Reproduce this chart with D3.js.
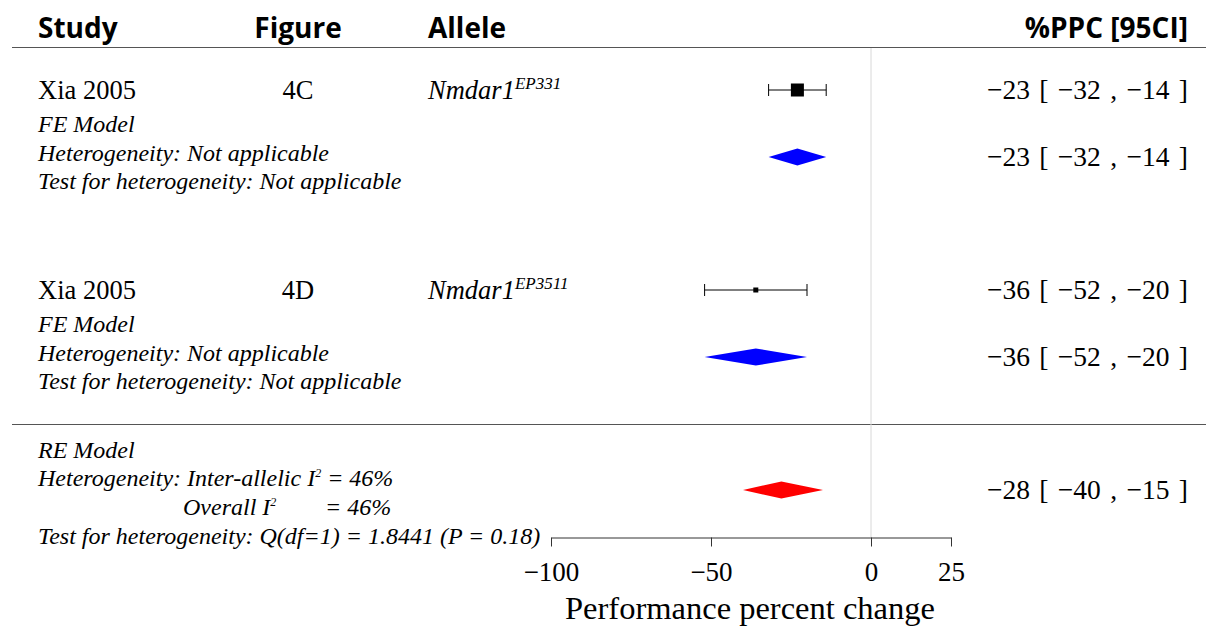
<!DOCTYPE html>
<html>
<head>
<meta charset="utf-8">
<script src="https://d3js.org/d3.v7.min.js"></script>
<style>
  body { margin: 0; background: #fff; }
</style>
</head>
<body>
<svg id="chart" width="1206" height="628"></svg>
<script>
// study rows
const studies = ["Xia 2005", "Xia 2005"];
const figures = ["4C", "4D"];
const alleles = ["Nmdar1", "Nmdar1"];
const alleleSup = ["EP331", "EP3511"];
const est = [-23, -36];
const lo = [-32, -52];
const hi = [-14, -20];
const sqSize = [13, 5];
// fixed-effect summaries per allele
const feEst = [-23, -36];
const feLo = [-32, -52];
const feHi = [-14, -20];
// random-effects overall
const reEst = -28, reLo = -40, reHi = -15;
const xTicks = [-100, -50, 0, 25];

const svg = d3.select("#chart");
const x = d3.scaleLinear().domain([-100, 25]).range([551, 951]);
const minus = v => (v < 0 ? "\u2212" + Math.abs(v) : "" + v);
const ciLabel = (e, l, h) => `${minus(e)} [ ${minus(l)} , ${minus(h)} ]`;

// serif text helper
function stext(parent, xx, yy, size, italic) {
  return parent.append("text").attr("x", xx).attr("y", yy)
    .attr("font-family", "Liberation Serif").attr("font-size", size)
    .attr("font-style", italic ? "italic" : "normal");
}
const ciText = (parent, yy, label) => stext(parent, 1188, yy, 27.5)
  .attr("text-anchor", "end").attr("word-spacing", 2.5).text(label);

// header
const hy = 38;
const hdr = (t, xx, anchor) => svg.append("text").attr("x", xx).attr("y", hy)
  .attr("text-anchor", anchor).attr("font-family", "Open Sans").attr("font-weight", 700)
  .attr("font-size", 28).text(t);
hdr("Study", 38, "start");
hdr("Figure", 298, "middle");
hdr("Allele", 428, "start");
hdr("%PPC [95CI]", 1188, "end");

svg.append("line").attr("x1", 12).attr("x2", 1206).attr("y1", 47.5).attr("y2", 47.5)
  .attr("stroke", "#555").attr("stroke-width", 1.2);
svg.append("line").attr("x1", 12).attr("x2", 1206).attr("y1", 424.5).attr("y2", 424.5)
  .attr("stroke", "#555").attr("stroke-width", 1.2);

// zero line
svg.append("line").attr("x1", x(0)).attr("x2", x(0)).attr("y1", 48).attr("y2", 537)
  .attr("stroke", "#d8d8d8").attr("stroke-width", 1);

const blockTop = [90, 290];
const diamondH = 8.5;
const diamond = (e, l, h, y) => `M${x(l)},${y} L${x(e)},${y - diamondH} L${x(h)},${y} L${x(e)},${y + diamondH} Z`;

studies.forEach((s, i) => {
  const y = blockTop[i];
  const g = svg.append("g");
  stext(g, 38, y + 9, 26.5).text(s);
  stext(g, 298, y + 9, 26.5).attr("text-anchor", "middle").text(figures[i]);
  const t = stext(g, 428, y + 9, 26.5, true);
  t.append("tspan").text(alleles[i]);
  t.append("tspan").attr("font-size", 17).attr("dy", -10).text(alleleSup[i]);

  // CI whiskers
  g.append("line").attr("x1", x(lo[i])).attr("x2", x(hi[i])).attr("y1", y).attr("y2", y).attr("stroke", "#000").attr("stroke-width", 1);
  [lo[i], hi[i]].forEach(v => g.append("line").attr("x1", x(v)).attr("x2", x(v)).attr("y1", y - 6).attr("y2", y + 6).attr("stroke", "#000"));
  g.append("rect").attr("x", x(est[i]) - sqSize[i] / 2).attr("y", y - sqSize[i] / 2)
    .attr("width", sqSize[i]).attr("height", sqSize[i]).attr("fill", "#000");
  ciText(g, y + 9, ciLabel(est[i], lo[i], hi[i]));

  // FE summary
  const lines = ["FE Model", "Heterogeneity: Not applicable", "Test for heterogeneity: Not applicable"];
  lines.forEach((l, k) => stext(g, 38, y + 42 + k * 28.5, 24, true).text(l));
  const fy = y + 67;
  g.append("path").attr("d", diamond(feEst[i], feLo[i], feHi[i], fy)).attr("fill", "#0000ff");
  ciText(g, fy + 9, ciLabel(feEst[i], feLo[i], feHi[i]));
});

// RE summary
stext(svg, 38, 458, 24, true).text("RE Model");
const h1 = stext(svg, 38, 486, 24, true);
h1.append("tspan").text("Heterogeneity: Inter-allelic I");
h1.append("tspan").attr("font-size", 12).attr("dy", -9).text("2");
h1.append("tspan").attr("dy", 9).text(" = 46%");
const h2 = stext(svg, 183, 515, 24, true);
h2.append("tspan").text("Overall I");
h2.append("tspan").attr("font-size", 12).attr("dy", -9).text("2");
stext(svg, 325, 515, 24, true).text("= 46%");
stext(svg, 38, 544, 24, true).text("Test for heterogeneity: Q(df=1) = 1.8441 (P = 0.18)");

svg.append("path").attr("d", diamond(reEst, reLo, reHi, 490)).attr("fill", "#ff0000");
ciText(svg, 499, ciLabel(reEst, reLo, reHi));

// axis
const axis = svg.append("g").attr("transform", "translate(0,537.5)")
  .call(d3.axisBottom(x).tickValues(xTicks).tickSize(9).tickSizeOuter(0).tickFormat(minus))
  .attr("font-family", "Liberation Serif").attr("font-size", 27);
axis.select(".domain").attr("stroke", "#333");
axis.selectAll(".tick line").attr("stroke", "#333");
axis.selectAll(".tick text").attr("fill", "#000").attr("dy", "1.15em");

stext(svg, x(-37.5) - 1, 619, 32.5).attr("text-anchor", "middle").text("Performance percent change");
</script>
</body>
</html>
